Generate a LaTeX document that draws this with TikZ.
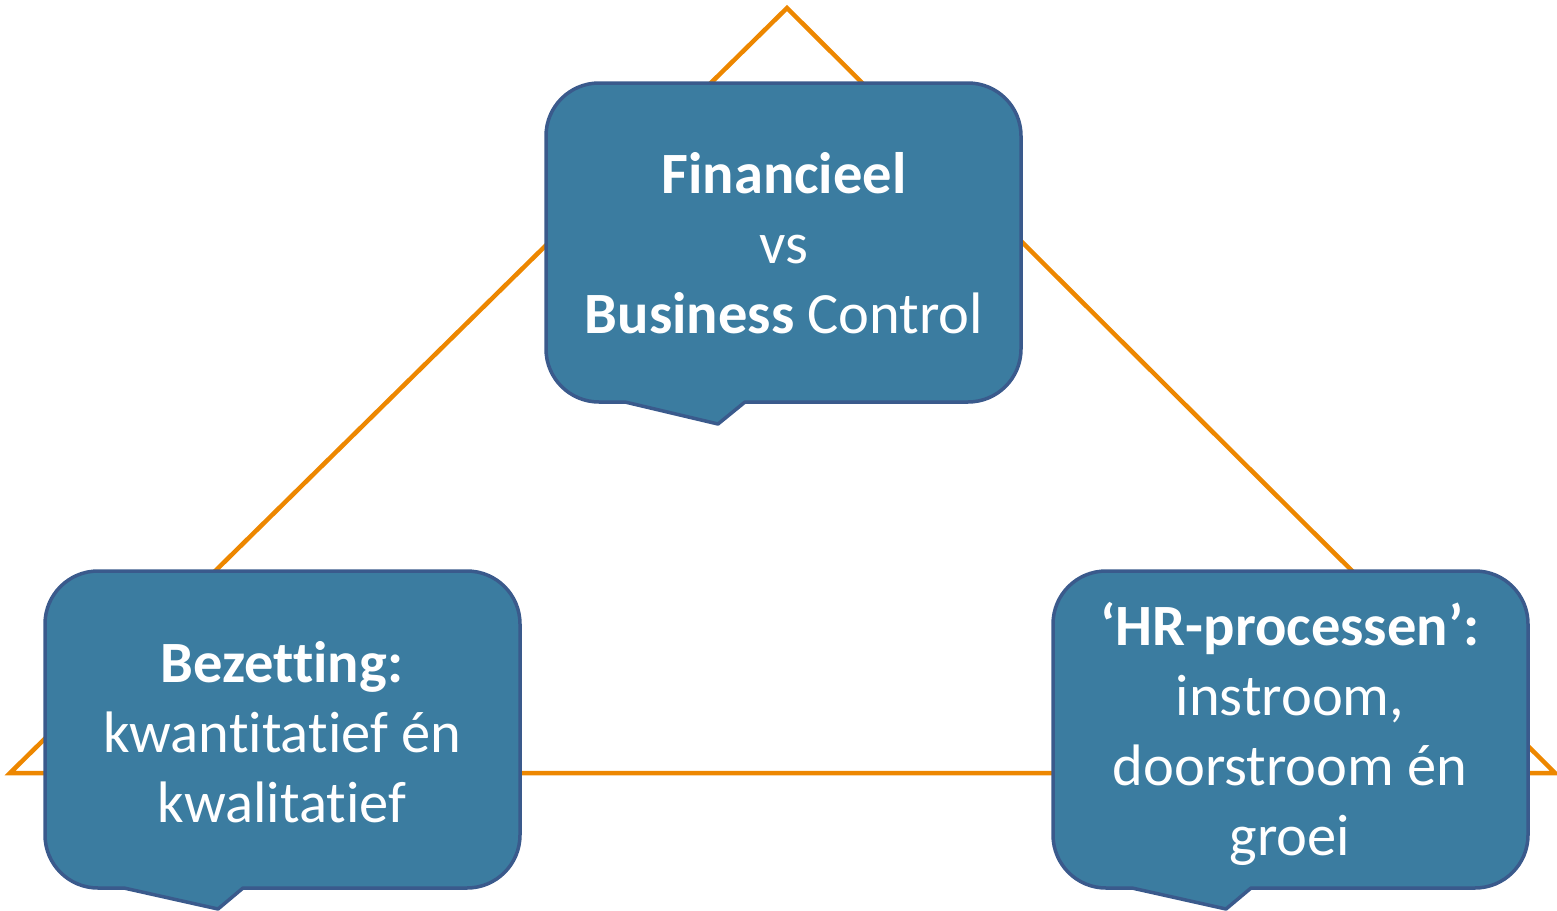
\documentclass[tikz,border=0pt]{standalone}
\usepackage{fontspec}
\setmainfont{Carlito}[Ligatures=NoCommon]
\definecolor{tri}{HTML}{ED8700}
\definecolor{boxfill}{HTML}{3B7CA0}
\definecolor{boxline}{HTML}{3A5A8C}
% rounded callout with a downward pointer:
% #1,#2 = top-left, #3,#4 = bottom-right, #5 = pointer start x, #6,#7 = tip, #8 = pointer end x
\newcommand\bubble[8]{%
  \path[bubblestyle]
    ({#1+53},#2) -- ({#3-53},#2)
    .. controls ({#3-23.7},#2) and (#3,{#2+23.7}) .. (#3,{#2+53})
    -- (#3,{#4-53})
    .. controls (#3,{#4-23.7}) and ({#3-23.7},#4) .. ({#3-53},#4)
    -- (#8,#4) -- (#6,#7) -- (#5,#4)
    -- ({#1+53},#4)
    .. controls ({#1+23.7},#4) and (#1,{#4-23.7}) .. (#1,{#4-53})
    -- (#1,{#2+53})
    .. controls (#1,{#2+23.7}) and ({#1+23.7},#2) .. cycle;}
\tikzset{
  bubblestyle/.style={fill=boxfill, draw=boxline, line width=3.5pt, line join=round},
  label text/.style={text=white, align=center, inner sep=0pt, anchor=base,
    font=\fontsize{58.5}{70}\selectfont},
  triline/.style={draw=tri, line width=4.5pt, line join=miter}
}
\begin{document}
\begin{tikzpicture}[x=1pt,y=-1pt]
\useasboundingbox (0,0) rectangle (1557,910);
% triangle behind the three callouts
\coordinate (apex) at (787,8);
\coordinate (bl) at (10,773);
\coordinate (br) at (1555,773);
\draw[triline] (apex) -- (br) -- (bl) -- cycle;
% callouts
\bubble{546}{83}{1021}{402}{625}{718}{424}{745}
\bubble{45}{571}{520}{888}{124}{218}{909}{243}
\bubble{1053}{571}{1528}{888}{1132}{1226}{909}{1251}
% texts (anchored at the baseline of the last line)
\node[label text] (fin) at (784,333) {\textbf{Financieel}\\vs\\\textbf{Business} Control};
\node[label text] (bez) at (282,822) {\textbf{Bezetting:}\\kwantitatief én\\kwalitatief};
\node[label text] (hr) at (1290,855) {\textbf{‘HR-processen’:}\\instroom,\\doorstroom én\\groei};
\end{tikzpicture}
\end{document}
